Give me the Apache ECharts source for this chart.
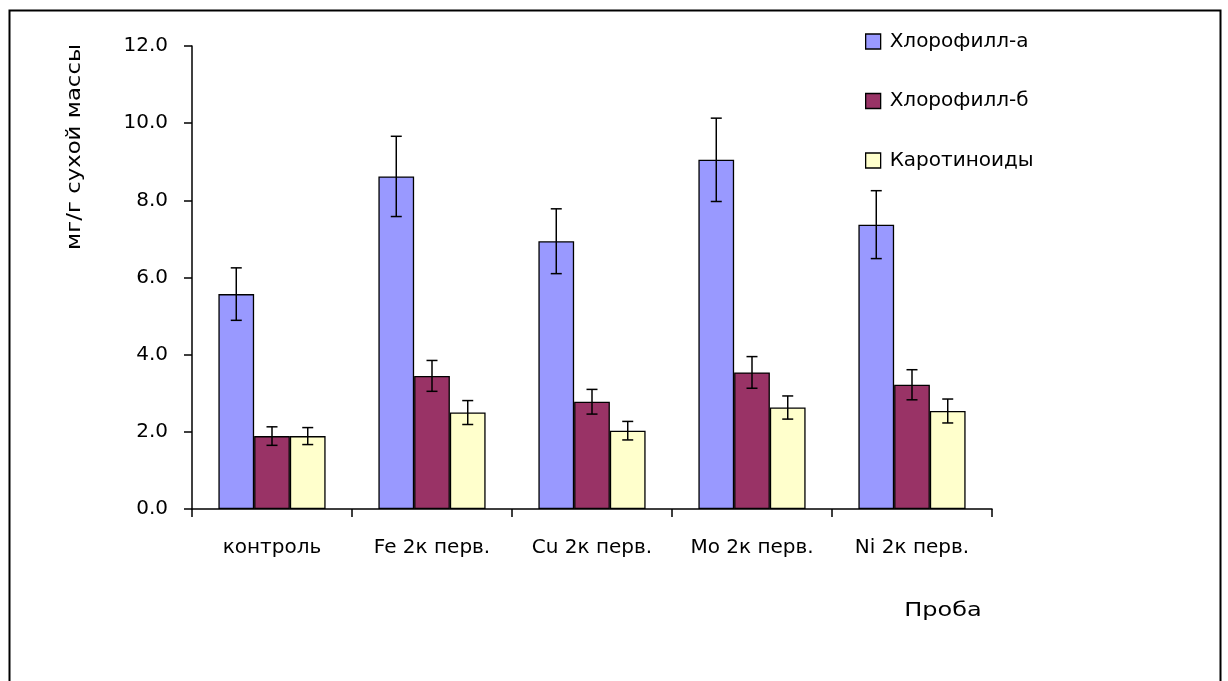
<!DOCTYPE html>
<html>
<head>
<meta charset="utf-8">
<script src="https://cdn.jsdelivr.net/npm/echarts@6/dist/echarts.min.js"></script>
<style>
html,body{margin:0;padding:0;background:#fff;}
#chart{width:1228px;height:681px;}
</style>
</head>
<body>
<div id="chart"></div>
<script>
var categories = ['контроль', 'Fe 2к перв.', 'Cu 2к перв.', 'Mo 2к перв.', 'Ni 2к перв.'];
var seriesNames = ['Хлорофилл-а', 'Хлорофилл-б', 'Каротиноиды'];
var chlA = [5.57, 8.62, 6.94, 9.05, 7.37];
var chlB = [1.89, 3.45, 2.78, 3.54, 3.22];
var carot = [1.89, 2.50, 2.03, 2.63, 2.54];
var errA = [0.68, 1.04, 0.84, 1.08, 0.88];
var errB = [0.24, 0.40, 0.32, 0.41, 0.39];
var errC = [0.22, 0.31, 0.24, 0.30, 0.31];
var colors = ['#9999FF', '#993366', '#FFFFCC'];
var yTicks = [0, 2, 4, 6, 8, 10, 12];

var values = [chlA, chlB, carot];
var errors = [errA, errB, errC];
var gapFrac = 0.33;

var chart = echarts.init(document.getElementById('chart'));
var font = 'DejaVu Sans, Liberation Sans, Arial, sans-serif';

var series = [];
seriesNames.forEach(function (name, i) {
  series.push({
    name: name,
    type: 'bar',
    data: values[i],
    barGap: '0%',
    barCategoryGap: (gapFrac * 100) + '%',
    itemStyle: { color: colors[i], borderColor: '#000', borderWidth: 1.3 },
    emphasis: { disabled: true },
    animation: false
  });
});
seriesNames.forEach(function (name, i) {
  series.push({
    type: 'custom',
    name: 'err' + i,
    z: 10,
    animation: false,
    data: values[i].map(function (v, j) { return [j, v, errors[i][j]]; }),
    renderItem: function (params, api) {
      var idx = api.value(0), v = api.value(1), e = api.value(2);
      var band = api.size([1, 0])[0];
      var bw = band * (1 - gapFrac) / 3;
      var off = (i - 1) * bw;
      var top = api.coord([idx, v + e]);
      var bot = api.coord([idx, v - e]);
      var x = top[0] + off;
      var cap = 5.5;
      var st = { stroke: '#000', lineWidth: 1.5 };
      return {
        type: 'group',
        children: [
          { type: 'line', shape: { x1: x, y1: top[1], x2: x, y2: bot[1] }, style: st },
          { type: 'line', shape: { x1: x - cap, y1: top[1], x2: x + cap, y2: top[1] }, style: st },
          { type: 'line', shape: { x1: x - cap, y1: bot[1], x2: x + cap, y2: bot[1] }, style: st }
        ]
      };
    }
  });
});

chart.setOption({
  backgroundColor: '#fff',
  animation: false,
  textStyle: { fontFamily: font },
  grid: { left: 192, right: 236, top: 46, bottom: 172, containLabel: false },
  legend: {
    data: seriesNames,
    orient: 'vertical',
    left: 860,
    top: 26.5,
    icon: 'rect',
    itemWidth: 15,
    itemHeight: 15,
    itemGap: 39.5,
    itemStyle: { borderColor: '#000', borderWidth: 1.3 },
    textStyle: { fontSize: 20, color: '#000', fontFamily: font, padding: [0, 0, 0, 4] },
    selectedMode: false
  },
  xAxis: {
    type: 'category',
    data: categories,
    axisLine: { lineStyle: { color: '#000', width: 1.5 } },
    axisTick: { show: true, interval: 0, length: 8, lineStyle: { color: '#000', width: 1.5 } },
    axisLabel: { color: '#000', fontSize: 20, margin: 29, interval: 0, hideOverlap: false, fontFamily: font },
    splitLine: { show: false }
  },
  yAxis: {
    type: 'value',
    min: yTicks[0],
    max: yTicks[yTicks.length - 1],
    interval: 2,
    axisLine: { show: true, lineStyle: { color: '#000', width: 1.5 } },
    axisTick: { show: true, length: 8, lineStyle: { color: '#000', width: 1.5 } },
    axisLabel: { color: '#000', fontSize: 20, margin: 24, fontFamily: font,
      formatter: function (v) { return v.toFixed(1); } },
    splitLine: { show: false }
  },
  graphic: [
    { type: 'rect', shape: { x: 9.5, y: 10.5, width: 1211, height: 720 },
      style: { fill: null, stroke: '#000', lineWidth: 2 }, silent: true },
    { type: 'text', x: 75, y: 147, rotation: Math.PI / 2, scaleX: 1.14,
      style: { text: 'мг/г сухой массы', fontSize: 20, fontFamily: font, fill: '#000',
        textAlign: 'center', textVerticalAlign: 'middle' } },
    { type: 'text', x: 943, y: 611, scaleX: 1.2,
      style: { text: 'Проба', fontSize: 20, fontFamily: font, fill: '#000',
        textAlign: 'center', textVerticalAlign: 'middle' } }
  ],
  series: series
});
</script>
</body>
</html>
